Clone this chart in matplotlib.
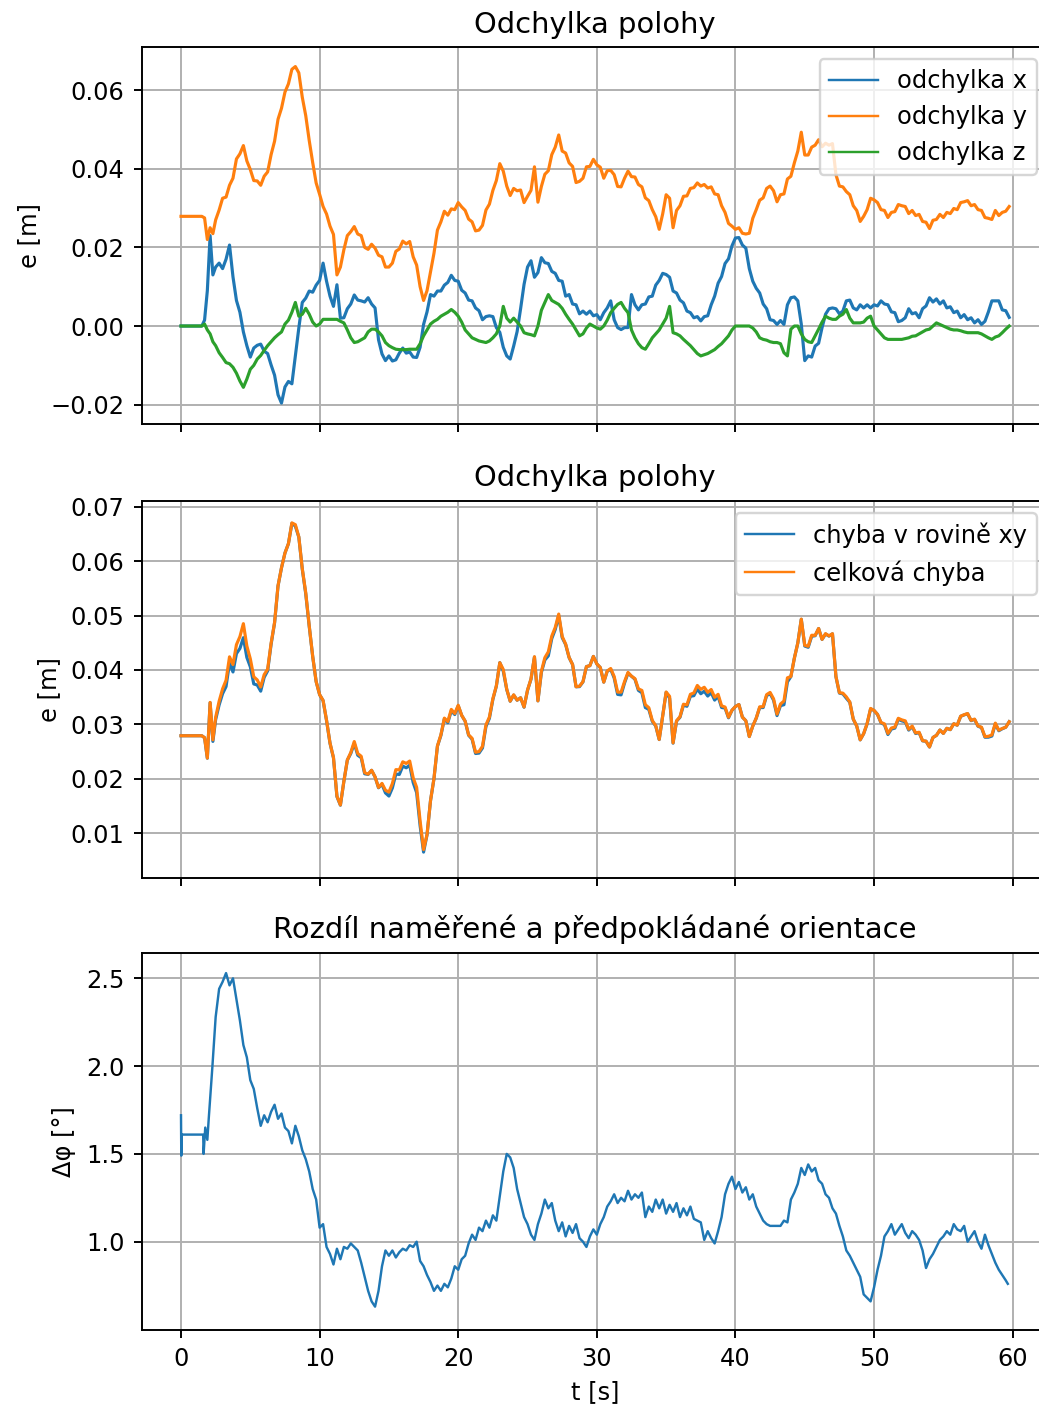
import numpy as np
import matplotlib
matplotlib.use("Agg")
import matplotlib.pyplot as plt

# ---------------------------------------------------------------------------
# Position deviation components, values in millimetres on a common time base.
# Standstill phase first, then samples every 0.25 s.
# ---------------------------------------------------------------------------
t_pos = [0.0, 0.5, 1.0, 1.5, 1.7, 1.9, 2.1, 2.3, 2.5] + list(np.arange(2.75, 59.76, 0.25))

dev_y_mm = [27.9, 27.9, 27.9, 27.9, 27.5, 22.0, 25.0, 23.5, 27.0,
            29.5,
            32.5, 32.8, 35.8, 37.6,
            42.5, 43.8, 45.9, 42.0,
            39.8, 37.0, 36.9, 35.8,
            38.1, 39.2, 43.6, 47.0,
            52.6, 55.4, 59.5, 61.6,
            65.3, 66.0, 64.4, 58.2,
            53.5, 47.2, 41.6, 36.4,
            33.5, 30.4, 28.5, 25.4,
            23.3, 13.0, 15.0, 19.4,
            23.0, 24.0, 25.3, 23.4,
            23.0, 20.0, 19.5, 20.8,
            19.8, 18.0, 17.6, 15.0,
            15.0, 16.0, 19.0, 19.6,
            21.6, 20.9, 21.5, 17.6,
            15.5, 10.0, 6.5, 9.0,
            13.8, 18.5, 24.4, 26.5,
            29.2, 28.2, 29.8, 29.6,
            31.4, 30.3, 29.4, 27.2,
            26.5, 24.2, 24.4, 25.6,
            29.5, 31.0, 34.5, 37.0,
            41.3, 39.4, 35.6, 33.2,
            35.0, 34.4, 34.6, 31.4,
            33.0, 34.5, 40.5, 31.5,
            35.5, 38.6, 39.5, 43.6,
            45.5, 48.6, 44.5, 44.0,
            41.5, 40.6, 36.5, 36.8,
            37.6, 40.5, 40.6, 42.4,
            41.0, 40.4, 37.6, 39.5,
            39.6, 38.5, 35.5, 35.4,
            37.6, 39.4, 38.0, 37.9,
            36.0, 35.4, 32.6, 31.9,
            29.6, 27.8, 24.6, 28.5,
            33.4, 32.5, 25.0, 29.4,
            30.6, 33.0, 33.1, 35.0,
            35.2, 36.4, 35.6, 36.0,
            35.1, 35.4, 33.6, 33.4,
            30.6, 28.9, 26.1, 25.4,
            24.6, 25.0, 23.6, 23.4,
            23.6, 27.4, 29.6, 32.0,
            32.6, 35.0, 35.6, 34.4,
            31.6, 33.4, 33.6, 37.4,
            38.1, 41.5, 44.5, 49.3,
            43.5, 43.5, 45.5, 46.0,
            47.4, 45.6, 46.5, 46.0,
            46.4, 38.5, 35.6, 35.4,
            34.2, 33.4, 30.6, 29.4,
            26.6, 27.9, 29.6, 32.5,
            32.1, 31.4, 29.6, 29.4,
            27.6, 28.9, 29.1, 30.9,
            30.6, 30.4, 28.6, 29.4,
            28.1, 28.4, 26.6, 26.4,
            24.8, 26.9, 27.1, 28.4,
            27.6, 28.9, 28.6, 29.9,
            29.6, 31.4, 31.6, 31.9,
            30.6, 30.9, 29.6, 29.4,
            27.6, 27.4, 27.1, 29.4,
            28.1, 28.9, 29.2, 30.4]

dev_x_mm = [0.0, 0.0, 0.0, 0.0, 1.5, 9.0, 23.0, 13.0, 15.0,
            16.0,
            14.6, 17.0, 20.6, 12.5,
            6.5, 3.5, -1.5, -5.0,
            -7.9, -5.6, -4.9, -4.6,
            -6.4, -7.0, -9.9, -12.5,
            -17.5, -19.6, -15.5, -14.1,
            -14.7, -7.5, -0.5, 6.0,
            7.1, 8.9, 8.6, 10.4,
            11.6, 16.0, 11.4, 7.6,
            5.0, 10.5, 2.0, 2.1,
            4.4, 5.6, 7.9, 6.6,
            6.4, 6.1, 7.2, 5.6,
            4.6, -3.5, -7.1, -8.8,
            -7.6, -8.9, -8.6, -6.9,
            -5.6, -6.9, -6.6, -7.9,
            -8.0, -5.4, 0.4, 3.6,
            8.0, 7.6, 8.9, 8.9,
            10.4, 11.1, 12.9, 11.6,
            11.4, 9.1, 8.4, 6.6,
            6.4, 4.6, 3.9, 1.6,
            2.4, 2.6, 2.4, -0.4,
            -1.6, -5.4, -7.6, -8.4,
            -5.1, -1.4, 4.4, 10.6,
            15.0, 16.6, 12.4, 13.6,
            17.4, 16.1, 15.9, 13.9,
            13.4, 11.6, 11.4, 7.6,
            8.0, 5.6, 5.4, 3.1,
            3.8, 3.0, 3.8, 2.6,
            2.9, 1.6, 3.4, 4.6,
            6.4, 1.6, -0.4, -0.9,
            -0.4, -0.4, 8.0, 5.4,
            4.1, 5.4, 5.6, 7.4,
            7.6, 10.4, 11.6, 13.4,
            13.1, 12.4, 8.9, 8.4,
            6.6, 5.9, 3.8, 3.4,
            2.1, 2.4, 1.3, 2.4,
            2.6, 5.4, 7.6, 10.9,
            12.6, 15.9, 17.1, 20.4,
            22.4, 22.5, 20.6, 19.8,
            14.6, 11.4, 9.6, 8.4,
            5.6, 4.4, 1.6, 1.4,
            0.4, 1.4, 0.4, 5.4,
            7.2, 7.4, 6.4, 0.5,
            -8.8, -7.6, -7.9, -5.1,
            -4.4, -0.4, 3.0, 4.4,
            4.6, 4.4, 3.1, 3.8,
            6.4, 6.6, 4.6, 4.1,
            5.4, 4.6, 5.4, 4.6,
            5.4, 5.1, 6.4, 5.6,
            5.4, 3.6, 3.4, 1.1,
            1.4, 2.1, 4.4, 3.1,
            3.4, 2.1, 4.4, 5.1,
            7.2, 6.1, 6.9, 5.6,
            6.4, 4.6, 4.9, 3.4,
            3.8, 2.1, 2.9, 1.6,
            2.1, 0.8, 1.6, 0.4,
            1.2, 3.6, 6.4, 6.4,
            6.4, 4.1, 3.9, 2.2]

dev_z_mm = [0.0, 0.0, 0.0, 0.0, 0.5, -1.0, -2.0, -4.0, -5.0,
            -6.8,
            -8.0, -9.3, -9.6, -10.5,
            -12.0, -14.0, -15.6, -13.5,
            -11.0, -10.0, -8.4, -7.5,
            -6.2, -5.0, -4.0, -3.0,
            -2.2, -1.5, 0.5, 1.5,
            3.5, 6.0, 2.5, 3.0,
            4.5, 3.0, 1.0, 0.0,
            0.5, 1.7, 1.7, 1.7,
            1.7, 1.7, 1.2, 0.8,
            -1.0, -3.0, -4.2, -4.0,
            -3.5, -3.0, -1.5, -0.8,
            -0.8, -1.5, -2.5, -4.2,
            -5.0, -5.5, -5.9, -6.0,
            -6.0, -6.0, -5.9, -5.9,
            -5.9, -4.5, -2.5, -1.0,
            0.5, 1.2, 1.7, 2.5,
            3.0, 3.5, 4.2, 3.5,
            2.5, 1.0, -1.0, -2.0,
            -3.0, -3.4, -3.8, -4.0,
            -4.2, -3.8, -3.0, -2.0,
            0.0, 5.0, 2.0, 1.0,
            2.0, 1.0, 0.0, -1.7,
            -2.0, -2.2, -2.5, 0.0,
            4.0, 6.0, 8.0, 6.5,
            6.0, 5.5, 4.5, 3.0,
            1.7, 0.5, -1.0, -2.5,
            -2.0, -0.5, 0.5, 0.0,
            -0.5, -0.8, 0.0, 1.5,
            3.4, 4.5, 5.5, 6.0,
            4.5, 3.4, -1.0, -3.0,
            -4.5, -5.5, -5.9, -4.5,
            -3.0, -2.0, -1.0, 0.5,
            2.0, 5.0, -1.7, -2.0,
            -2.5, -3.4, -4.2, -5.0,
            -6.0, -7.0, -7.6, -7.3,
            -7.0, -6.5, -6.0, -5.2,
            -4.5, -3.5, -2.5, -1.0,
            0.0, 0.0, 0.0, 0.0,
            0.0, -0.5, -1.5, -3.0,
            -3.4, -3.6, -4.0, -4.2,
            -4.2, -4.5, -6.8, -7.6,
            -0.8, 0.0, 0.0, -2.0,
            -3.4, -4.0, -4.2, -2.5,
            -0.8, 1.0, 2.5, 2.0,
            1.7, 1.7, 2.5, 3.0,
            4.2, 2.0, 0.8, 0.8,
            0.8, 1.0, 2.0, 2.5,
            0.0, -1.0, -2.0, -3.0,
            -3.4, -3.4, -3.4, -3.4,
            -3.4, -3.2, -3.0, -2.6,
            -2.5, -2.0, -1.5, -1.0,
            -0.8, 0.0, 0.8, 0.4,
            0.0, -0.4, -0.8, -1.0,
            -1.0, -1.2, -1.5, -1.7,
            -1.7, -1.7, -1.7, -2.0,
            -2.5, -3.0, -3.4, -2.8,
            -2.5, -1.7, -0.8, 0.0]

# ---------------------------------------------------------------------------
# Difference between measured and expected orientation [deg]
# ---------------------------------------------------------------------------
t_ori = [0.0, 0.02, 0.05, 1.6, 1.63, 1.75, 1.9] + list(np.arange(2.0, 59.51, 0.25)) + [59.65]
d_phi = [1.72, 1.49, 1.61, 1.61, 1.50, 1.65, 1.58,
         1.70, 1.98, 2.28, 2.44,
         2.48, 2.53, 2.46, 2.50,
         2.38, 2.26, 2.12, 2.05,
         1.92, 1.87, 1.76, 1.66,
         1.72, 1.68, 1.74, 1.78,
         1.70, 1.73, 1.65, 1.63,
         1.56, 1.66, 1.60, 1.52,
         1.47, 1.40, 1.30, 1.24,
         1.08, 1.10, 0.97, 0.93,
         0.87, 0.96, 0.90, 0.97,
         0.96, 0.99, 0.97, 0.95,
         0.88, 0.80, 0.72, 0.66,
         0.63, 0.72, 0.86, 0.95,
         0.92, 0.95, 0.91, 0.94,
         0.96, 0.95, 0.98, 0.97,
         1.00, 0.89, 0.86, 0.81,
         0.77, 0.72, 0.75, 0.72,
         0.76, 0.74, 0.79, 0.86,
         0.84, 0.90, 0.92, 0.99,
         1.04, 1.01, 1.08, 1.06,
         1.12, 1.08, 1.15, 1.12,
         1.26, 1.40, 1.50, 1.48,
         1.42, 1.30, 1.22, 1.14,
         1.10, 1.04, 1.01, 1.10,
         1.16, 1.24, 1.19, 1.22,
         1.12, 1.06, 1.11, 1.03,
         1.09, 1.05, 1.10, 1.02,
         1.00, 0.97, 1.03, 1.07,
         1.04, 1.10, 1.14, 1.20,
         1.23, 1.27, 1.22, 1.25,
         1.23, 1.29, 1.24, 1.27,
         1.25, 1.28, 1.14, 1.20,
         1.17, 1.24, 1.19, 1.24,
         1.16, 1.21, 1.17, 1.22,
         1.14, 1.19, 1.15, 1.20,
         1.13, 1.12, 1.11, 1.01,
         1.06, 1.02, 0.99, 1.06,
         1.14, 1.27, 1.33, 1.37,
         1.30, 1.34, 1.28, 1.31,
         1.24, 1.27, 1.20, 1.16,
         1.12, 1.10, 1.09, 1.09,
         1.09, 1.09, 1.12, 1.11,
         1.24, 1.28, 1.33, 1.42,
         1.38, 1.44, 1.40, 1.42,
         1.35, 1.33, 1.27, 1.25,
         1.19, 1.16, 1.09, 1.03,
         0.95, 0.92, 0.88, 0.84,
         0.80, 0.70, 0.68, 0.66,
         0.74, 0.84, 0.92, 1.03,
         1.06, 1.10, 1.04, 1.07,
         1.10, 1.05, 1.02, 1.06,
         1.04, 1.01, 0.95, 0.85,
         0.90, 0.93, 0.97, 1.01,
         1.03, 1.06, 1.04, 1.10,
         1.07, 1.06, 1.09, 1.00,
         1.03, 1.06, 1.00, 0.96,
         1.04, 0.98, 0.93, 0.88,
         0.84, 0.81, 0.78,
         0.76]

assert len(dev_x_mm) == len(dev_y_mm) == len(dev_z_mm) == len(t_pos)
assert len(d_phi) == len(t_ori)

# components in metres, planar and total error magnitude
ex = np.asarray(dev_x_mm) / 1000.0
ey = np.asarray(dev_y_mm) / 1000.0
ez = np.asarray(dev_z_mm) / 1000.0
err_xy = np.sqrt(ex**2 + ey**2)
err_total = np.sqrt(ex**2 + ey**2 + ez**2)

W, H, DPI = 1039, 1409, 174
fig = plt.figure(figsize=(W / DPI, H / DPI), dpi=DPI)

LEFT, RIGHT = 141.5, 1048.7


def panel(top_px, bottom_px):
    return fig.add_axes([LEFT / W, 1 - bottom_px / H, (RIGHT - LEFT) / W,
                         (bottom_px - top_px) / H])


ax1 = panel(47.3, 424.3)
ax2 = panel(500.7, 878.3)
ax3 = panel(952.7, 1330.0)

lw_pos = 1.3
ax1.plot(t_pos, ex, lw=lw_pos, label="odchylka x")
ax1.plot(t_pos, ey, lw=lw_pos, label="odchylka y")
ax1.plot(t_pos, ez, lw=lw_pos, label="odchylka z")
ax1.set_title("Odchylka polohy")
ax1.set_ylabel("e [m]")
ax1.set_ylim(-0.0250, 0.0709)
ax1.set_yticks([-0.02, 0.0, 0.02, 0.04, 0.06])
leg1 = ax1.legend(loc="upper right")

ax2.plot(t_pos, err_xy, lw=lw_pos, label="chyba v rovině xy")
ax2.plot(t_pos, err_total, lw=lw_pos, label="celková chyba")
ax2.set_title("Odchylka polohy")
ax2.set_ylabel("e [m]")
ax2.set_ylim(0.0017, 0.0711)
ax2.set_yticks([0.01, 0.02, 0.03, 0.04, 0.05, 0.06, 0.07])
leg2 = ax2.legend(loc="upper right")

# thin sample lines in the legends
for leg in (leg1, leg2):
    for handle in leg.get_lines():
        handle.set_linewidth(1.0)

ax3.plot(t_ori, d_phi, lw=1.0)
ax3.set_title("Rozdíl naměřené a předpokládané orientace")
ax3.set_ylabel("Δφ [°]")
ax3.set_xlabel("t [s]")
ax3.set_ylim(0.497, 2.646)
ax3.set_yticks([1.0, 1.5, 2.0, 2.5])

for ax in (ax1, ax2, ax3):
    ax.set_xlim(-2.85, 62.6)
    ax.set_xticks([0, 10, 20, 30, 40, 50, 60])
    ax.grid(True)
for ax in (ax1, ax2):
    ax.tick_params(labelbottom=False)

fig.savefig("out.png", dpi=DPI)
